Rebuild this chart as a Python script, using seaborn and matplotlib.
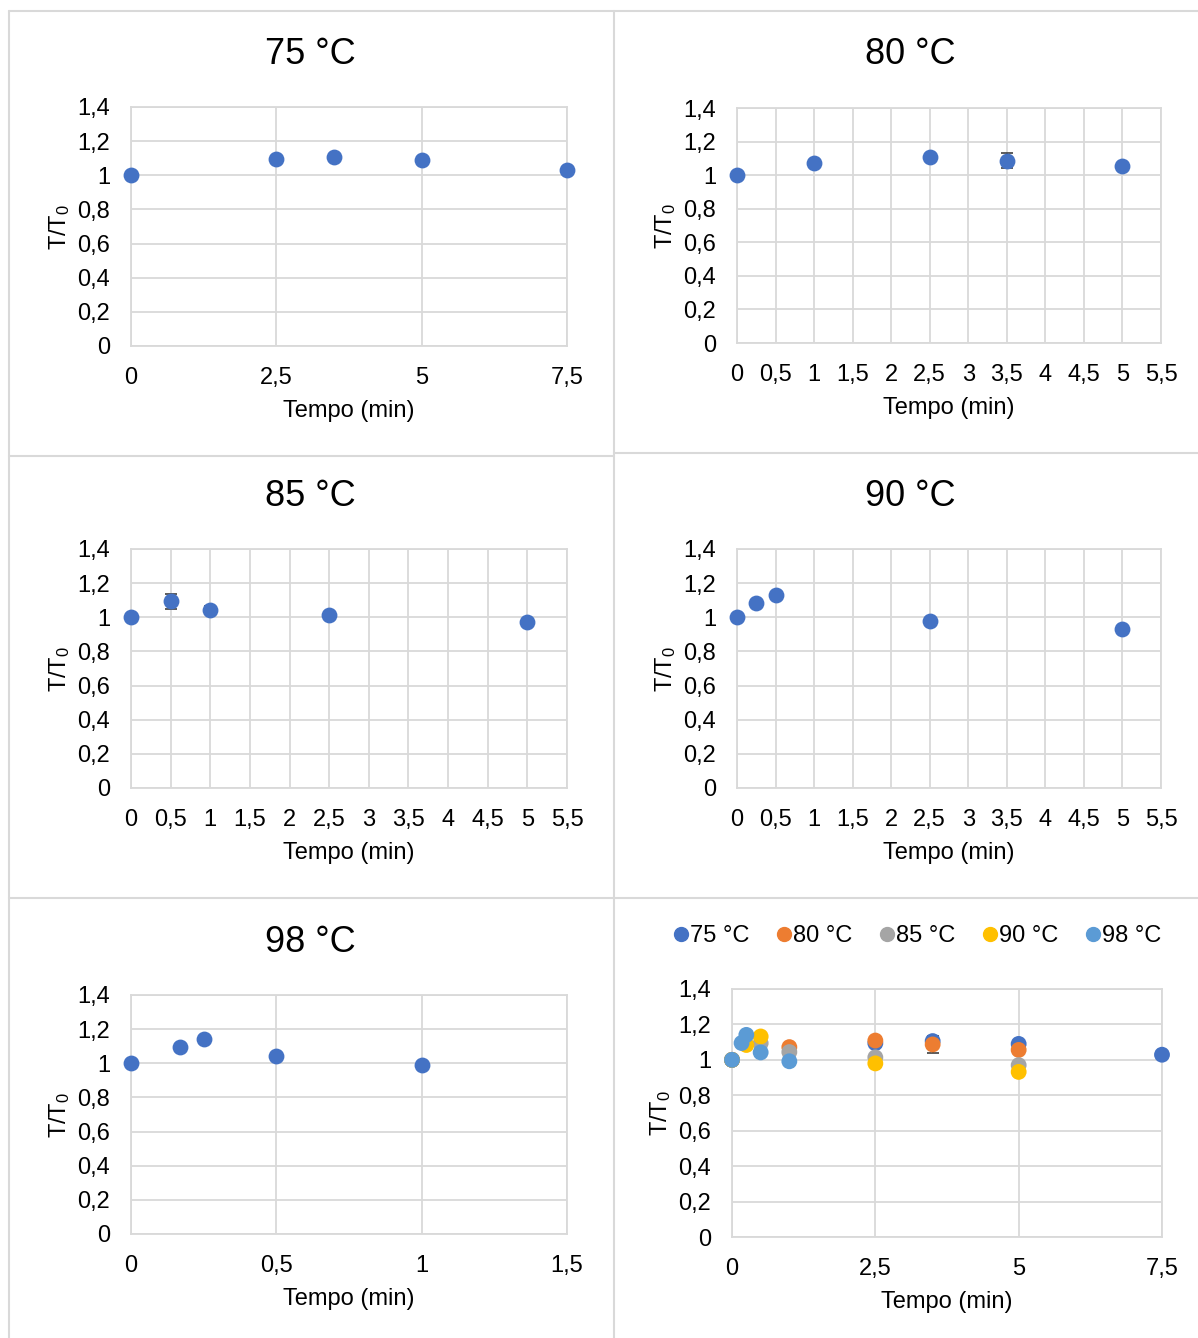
import matplotlib
matplotlib.use('Agg')
import matplotlib.pyplot as plt
import matplotlib.ticker as ticker
from matplotlib.lines import Line2D
import numpy as np
import pandas as pd
import seaborn as sns

# Dados (T/T0 em função do tempo)
t75 = [0, 2.5, 3.5, 5, 7.5]
r75 = [1.0, 1.094, 1.106, 1.09, 1.029]
e75 = [0, 0, 0, 0, 0]

t80 = [0, 1, 2.5, 3.5, 5]
r80 = [1.0, 1.072, 1.109, 1.087, 1.056]
e80 = [0, 0, 0, 0.046, 0]

t85 = [0, 0.5, 1, 2.5, 5]
r85 = [1.0, 1.094, 1.044, 1.014, 0.97]
e85 = [0, 0.043, 0.02, 0.015, 0]

t90 = [0, 0.25, 0.5, 2.5, 5]
r90 = [1.0, 1.084, 1.132, 0.98, 0.932]
e90 = [0, 0, 0, 0, 0]

t98 = [0, 0.167, 0.25, 0.5, 1]
r98 = [1.0, 1.095, 1.141, 1.042, 0.992]
e98 = [0, 0, 0, 0, 0]

labels = ['75 °C', '80 °C', '85 °C', '90 °C', '98 °C']
colors = ['#4472C4', '#ED7D31', '#A5A5A5', '#FFC000', '#5B9BD5']

W, H = 1198, 1338
GRID = '#d9d9d9'

sns.set_style('white')
plt.rcParams['font.family'] = ['Liberation Sans', 'DejaVu Sans']
plt.rcParams['mathtext.fontset'] = 'custom'
plt.rcParams['mathtext.rm'] = 'Liberation Sans'
plt.rcParams['mathtext.it'] = 'Liberation Sans'
plt.rcParams['text.color'] = 'black'
plt.rcParams['axes.labelcolor'] = 'black'


def px_axes(fig, l, t, r, b):
    return fig.add_axes([l / W, 1 - b / H, (r - l) / W, (b - t) / H])


def fmt_comma(x, _):
    s = f'{x:.1f}'.rstrip('0').rstrip('.')
    return s.replace('.', ',')


def style_axes(ax, xmax, xstep):
    ax.set_xlim(0, xmax)
    ax.set_ylim(0, 1.4)
    ax.xaxis.set_major_locator(ticker.MultipleLocator(xstep))
    ax.yaxis.set_major_locator(ticker.MultipleLocator(0.2))
    ax.xaxis.set_major_formatter(ticker.FuncFormatter(fmt_comma))
    ax.yaxis.set_major_formatter(ticker.FuncFormatter(fmt_comma))
    ax.grid(True, color=GRID, linewidth=1.3)
    ax.set_axisbelow(True)
    for sp in ax.spines.values():
        sp.set_color(GRID)
        sp.set_linewidth(1.3)
    ax.tick_params(length=0, labelsize=17, pad=15, colors='black')


def set_labels(ax):
    ax.set_xlabel('Tempo (min)', fontsize=17, labelpad=8, color='black')
    ax.set_ylabel('T/T$_0$', fontsize=17, labelpad=4, color='black')


fig = plt.figure(figsize=(W / 100, H / 100), dpi=100)

panels = [
    ((131, 107, 567, 346), t75, r75, e75, 7.5, 2.5, (310, 55)),
    ((737, 108, 1161, 343), t80, r80, e80, 5.5, 0.5, (910, 55)),
    ((131, 549, 567, 788), t85, r85, e85, 5.5, 0.5, (310, 497)),
    ((737, 549, 1161, 788), t90, r90, e90, 5.5, 0.5, (910, 497)),
    ((131, 995, 567, 1234), t98, r98, e98, 1.5, 0.5, (310, 943)),
]

for i, (rect, t, r, e, xmax, xstep, tpos) in enumerate(panels):
    ax = px_axes(fig, *rect)
    style_axes(ax, xmax, xstep)
    df = pd.DataFrame({'t': t, 'r': r, 'e': e})
    err = df[df['e'] > 0]
    if len(err):
        ax.errorbar(err['t'], err['r'], yerr=err['e'], fmt='none',
                    ecolor='#404040', elinewidth=1.2, capsize=4, capthick=1.2, zorder=2)
    sns.scatterplot(data=df, x='t', y='r', ax=ax, color=colors[0], s=130,
                    linewidth=0, zorder=3, clip_on=False)
    set_labels(ax)
    fig.text(tpos[0] / W, 1 - tpos[1] / H, labels[i], fontsize=26,
             ha='center', va='center', color='black')

# Gráfico combinado
series = [(t75, r75, e75), (t80, r80, e80), (t85, r85, e85), (t90, r90, e90), (t98, r98, e98)]
frames = []
for lab, (t, r, e) in zip(labels, series):
    frames.append(pd.DataFrame({'t': t, 'r': r, 'e': e, 'serie': lab}))
allp = pd.concat(frames, ignore_index=True)

axc = px_axes(fig, 732, 989, 1162, 1237)
style_axes(axc, 7.5, 2.5)
for lab in labels:
    sub = allp[(allp['serie'] == lab) & (allp['e'] > 0)]
    if len(sub):
        axc.errorbar(sub['t'], sub['r'], yerr=sub['e'], fmt='none',
                     ecolor='#404040', elinewidth=1.2, capsize=4, capthick=1.2, zorder=2)
sns.scatterplot(data=allp, x='t', y='r', hue='serie', palette=colors, ax=axc,
                s=130, linewidth=0, zorder=3, clip_on=False, legend=False)
set_labels(axc)

handles = [Line2D([], [], marker='o', linestyle='', color=c, markersize=10) for c in colors]
fig.legend(handles, labels, loc='center', bbox_to_anchor=(914 / W, 1 - 936 / H),
           ncol=5, frameon=False, fontsize=17, handletextpad=-0.2,
           columnspacing=0.85, handlelength=1.2)

# Bordas da tabela
def hline(y, x0, x1):
    fig.add_artist(Line2D([x0 / W, x1 / W], [1 - y / H, 1 - y / H], color=GRID, lw=1.5))


def vline(x, y0, y1):
    fig.add_artist(Line2D([x / W, x / W], [1 - y0 / H, 1 - y1 / H], color=GRID, lw=1.5))


hline(11, 9, 1198)
hline(456, 9, 614)
hline(453, 614, 1198)
hline(898, 9, 1198)
vline(9, 11, 1338)
vline(614, 11, 1338)

fig.savefig('out.png', dpi=100)
